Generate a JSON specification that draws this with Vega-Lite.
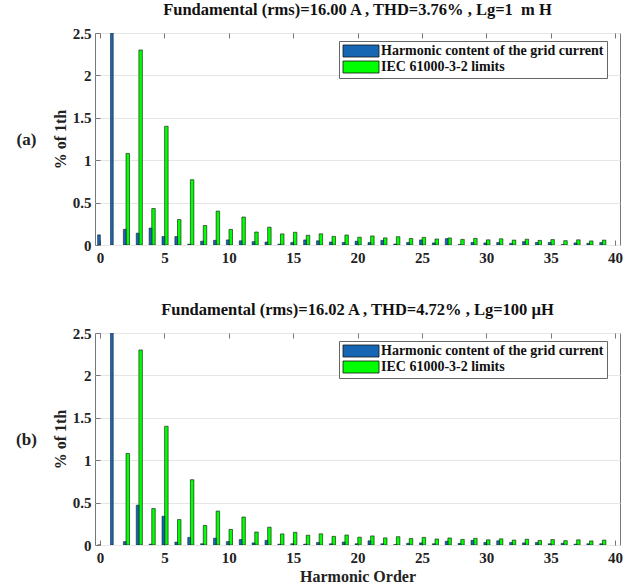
{
  "$schema": "https://vega.github.io/schema/vega-lite/v6.json",
  "padding": {"left": 15, "top": 1, "right": 4, "bottom": 2},
  "background": "white",
  "config": {
    "font": "Times New Roman, Liberation Serif, serif",
    "view": {"stroke": "#777", "strokeWidth": 1},
    "title": {"font": "Times New Roman, Liberation Serif, serif", "fontSize": 16.5, "fontWeight": "bold", "color": "#111", "offset": 8},
    "axis": {
      "labelFont": "Times New Roman, Liberation Serif, serif", "labelFontSize": 15, "labelFontWeight": "bold", "labelColor": "#222",
      "titleFont": "Times New Roman, Liberation Serif, serif", "titleFontSize": 16, "titleFontWeight": "bold", "titleColor": "#222",
      "domain": false, "gridColor": "#e6e6e6", "gridWidth": 1, "tickColor": "#777"
    },
    "legend": {
      "orient": "none", "legendX": 244, "legendY": 8, "fillColor": "white", "strokeColor": "#666", "padding": 3,
      "labelFont": "Times New Roman, Liberation Serif, serif", "labelFontSize": 14, "labelFontWeight": "bold", "labelColor": "#111",
      "rowPadding": 0, "labelOffset": 13, "labelLimit": 400, "title": null
    }
  },
  "datasets": {
    "limits": [
      {"h": 2, "series": "IEC 61000-3-2 limits", "value": 1.08},
      {"h": 3, "series": "IEC 61000-3-2 limits", "value": 2.30},
      {"h": 4, "series": "IEC 61000-3-2 limits", "value": 0.43},
      {"h": 5, "series": "IEC 61000-3-2 limits", "value": 1.40},
      {"h": 6, "series": "IEC 61000-3-2 limits", "value": 0.30},
      {"h": 7, "series": "IEC 61000-3-2 limits", "value": 0.77},
      {"h": 8, "series": "IEC 61000-3-2 limits", "value": 0.23},
      {"h": 9, "series": "IEC 61000-3-2 limits", "value": 0.40},
      {"h": 10, "series": "IEC 61000-3-2 limits", "value": 0.184},
      {"h": 11, "series": "IEC 61000-3-2 limits", "value": 0.33},
      {"h": 12, "series": "IEC 61000-3-2 limits", "value": 0.153},
      {"h": 13, "series": "IEC 61000-3-2 limits", "value": 0.21},
      {"h": 14, "series": "IEC 61000-3-2 limits", "value": 0.131},
      {"h": 15, "series": "IEC 61000-3-2 limits", "value": 0.15},
      {"h": 16, "series": "IEC 61000-3-2 limits", "value": 0.115},
      {"h": 17, "series": "IEC 61000-3-2 limits", "value": 0.132},
      {"h": 18, "series": "IEC 61000-3-2 limits", "value": 0.102},
      {"h": 19, "series": "IEC 61000-3-2 limits", "value": 0.118},
      {"h": 20, "series": "IEC 61000-3-2 limits", "value": 0.092},
      {"h": 21, "series": "IEC 61000-3-2 limits", "value": 0.107},
      {"h": 22, "series": "IEC 61000-3-2 limits", "value": 0.084},
      {"h": 23, "series": "IEC 61000-3-2 limits", "value": 0.098},
      {"h": 24, "series": "IEC 61000-3-2 limits", "value": 0.077},
      {"h": 25, "series": "IEC 61000-3-2 limits", "value": 0.090},
      {"h": 26, "series": "IEC 61000-3-2 limits", "value": 0.071},
      {"h": 27, "series": "IEC 61000-3-2 limits", "value": 0.083},
      {"h": 28, "series": "IEC 61000-3-2 limits", "value": 0.066},
      {"h": 29, "series": "IEC 61000-3-2 limits", "value": 0.078},
      {"h": 30, "series": "IEC 61000-3-2 limits", "value": 0.061},
      {"h": 31, "series": "IEC 61000-3-2 limits", "value": 0.073},
      {"h": 32, "series": "IEC 61000-3-2 limits", "value": 0.058},
      {"h": 33, "series": "IEC 61000-3-2 limits", "value": 0.068},
      {"h": 34, "series": "IEC 61000-3-2 limits", "value": 0.054},
      {"h": 35, "series": "IEC 61000-3-2 limits", "value": 0.064},
      {"h": 36, "series": "IEC 61000-3-2 limits", "value": 0.051},
      {"h": 37, "series": "IEC 61000-3-2 limits", "value": 0.061},
      {"h": 38, "series": "IEC 61000-3-2 limits", "value": 0.048},
      {"h": 39, "series": "IEC 61000-3-2 limits", "value": 0.058}
    ],
    "a": [
      {"h": 0, "series": "Harmonic content of the grid current", "value": 0.12},
      {"h": 1, "series": "Harmonic content of the grid current", "value": 100},
      {"h": 2, "series": "Harmonic content of the grid current", "value": 0.185},
      {"h": 3, "series": "Harmonic content of the grid current", "value": 0.14},
      {"h": 4, "series": "Harmonic content of the grid current", "value": 0.2},
      {"h": 5, "series": "Harmonic content of the grid current", "value": 0.1},
      {"h": 6, "series": "Harmonic content of the grid current", "value": 0.1},
      {"h": 7, "series": "Harmonic content of the grid current", "value": 0.01},
      {"h": 8, "series": "Harmonic content of the grid current", "value": 0.045},
      {"h": 9, "series": "Harmonic content of the grid current", "value": 0.055},
      {"h": 10, "series": "Harmonic content of the grid current", "value": 0.06},
      {"h": 11, "series": "Harmonic content of the grid current", "value": 0.05},
      {"h": 12, "series": "Harmonic content of the grid current", "value": 0.04},
      {"h": 13, "series": "Harmonic content of the grid current", "value": 0.035},
      {"h": 14, "series": "Harmonic content of the grid current", "value": 0.01},
      {"h": 15, "series": "Harmonic content of the grid current", "value": 0.03},
      {"h": 16, "series": "Harmonic content of the grid current", "value": 0.06},
      {"h": 17, "series": "Harmonic content of the grid current", "value": 0.05},
      {"h": 18, "series": "Harmonic content of the grid current", "value": 0.035},
      {"h": 19, "series": "Harmonic content of the grid current", "value": 0.03},
      {"h": 20, "series": "Harmonic content of the grid current", "value": 0.045},
      {"h": 21, "series": "Harmonic content of the grid current", "value": 0.03},
      {"h": 22, "series": "Harmonic content of the grid current", "value": 0.055},
      {"h": 23, "series": "Harmonic content of the grid current", "value": 0.012},
      {"h": 24, "series": "Harmonic content of the grid current", "value": 0.03},
      {"h": 25, "series": "Harmonic content of the grid current", "value": 0.06},
      {"h": 26, "series": "Harmonic content of the grid current", "value": 0.025},
      {"h": 27, "series": "Harmonic content of the grid current", "value": 0.075},
      {"h": 28, "series": "Harmonic content of the grid current", "value": 0.005},
      {"h": 29, "series": "Harmonic content of the grid current", "value": 0.03},
      {"h": 30, "series": "Harmonic content of the grid current", "value": 0.025},
      {"h": 31, "series": "Harmonic content of the grid current", "value": 0.03},
      {"h": 32, "series": "Harmonic content of the grid current", "value": 0.02},
      {"h": 33, "series": "Harmonic content of the grid current", "value": 0.04},
      {"h": 34, "series": "Harmonic content of the grid current", "value": 0.03},
      {"h": 35, "series": "Harmonic content of the grid current", "value": 0.03},
      {"h": 36, "series": "Harmonic content of the grid current", "value": 0.005},
      {"h": 37, "series": "Harmonic content of the grid current", "value": 0.025},
      {"h": 38, "series": "Harmonic content of the grid current", "value": 0.02},
      {"h": 39, "series": "Harmonic content of the grid current", "value": 0.03}
    ],
    "b": [
      {"h": 0, "series": "Harmonic content of the grid current", "value": 0.0},
      {"h": 1, "series": "Harmonic content of the grid current", "value": 100},
      {"h": 2, "series": "Harmonic content of the grid current", "value": 0.04},
      {"h": 3, "series": "Harmonic content of the grid current", "value": 0.47},
      {"h": 4, "series": "Harmonic content of the grid current", "value": 0.01},
      {"h": 5, "series": "Harmonic content of the grid current", "value": 0.34},
      {"h": 6, "series": "Harmonic content of the grid current", "value": 0.035},
      {"h": 7, "series": "Harmonic content of the grid current", "value": 0.09},
      {"h": 8, "series": "Harmonic content of the grid current", "value": 0.015},
      {"h": 9, "series": "Harmonic content of the grid current", "value": 0.08},
      {"h": 10, "series": "Harmonic content of the grid current", "value": 0.04},
      {"h": 11, "series": "Harmonic content of the grid current", "value": 0.065},
      {"h": 12, "series": "Harmonic content of the grid current", "value": 0.025},
      {"h": 13, "series": "Harmonic content of the grid current", "value": 0.055},
      {"h": 14, "series": "Harmonic content of the grid current", "value": 0.01},
      {"h": 15, "series": "Harmonic content of the grid current", "value": 0.015},
      {"h": 16, "series": "Harmonic content of the grid current", "value": 0.01},
      {"h": 17, "series": "Harmonic content of the grid current", "value": 0.03},
      {"h": 18, "series": "Harmonic content of the grid current", "value": 0.015},
      {"h": 19, "series": "Harmonic content of the grid current", "value": 0.035},
      {"h": 20, "series": "Harmonic content of the grid current", "value": 0.015},
      {"h": 21, "series": "Harmonic content of the grid current", "value": 0.05},
      {"h": 22, "series": "Harmonic content of the grid current", "value": 0.015},
      {"h": 23, "series": "Harmonic content of the grid current", "value": 0.005},
      {"h": 24, "series": "Harmonic content of the grid current", "value": 0.02},
      {"h": 25, "series": "Harmonic content of the grid current", "value": 0.025},
      {"h": 26, "series": "Harmonic content of the grid current", "value": 0.015},
      {"h": 27, "series": "Harmonic content of the grid current", "value": 0.045},
      {"h": 28, "series": "Harmonic content of the grid current", "value": 0.02},
      {"h": 29, "series": "Harmonic content of the grid current", "value": 0.055},
      {"h": 30, "series": "Harmonic content of the grid current", "value": 0.03},
      {"h": 31, "series": "Harmonic content of the grid current", "value": 0.05},
      {"h": 32, "series": "Harmonic content of the grid current", "value": 0.03},
      {"h": 33, "series": "Harmonic content of the grid current", "value": 0.025},
      {"h": 34, "series": "Harmonic content of the grid current", "value": 0.03},
      {"h": 35, "series": "Harmonic content of the grid current", "value": 0.015},
      {"h": 36, "series": "Harmonic content of the grid current", "value": 0.02},
      {"h": 37, "series": "Harmonic content of the grid current", "value": 0.01},
      {"h": 38, "series": "Harmonic content of the grid current", "value": 0.015},
      {"h": 39, "series": "Harmonic content of the grid current", "value": 0.015}
    ]
  },
  "spacing": 35,
  "vconcat": [
    {
      "title": "Fundamental (rms)=16.00 A , THD=3.76% , Lg=1\u00a0 m H",
      "width": 525,
      "height": 212,
      "layer": [
        {
          "data": {"name": "limits"},
          "mark": {"type": "bar", "size": 3.5, "xOffset": 2, "stroke": "#111", "strokeWidth": 0.6, "clip": true},
          "encoding": {
            "x": {"field": "h", "type": "quantitative", "scale": {"domain": [0, 40], "nice": false},
                  "axis": {"orient": "top", "labels": false, "title": null, "grid": false, "values": [0,5,10,15,20,25,30,35,40], "tickSize": -5}},
            "y": {"field": "value", "type": "quantitative", "scale": {"domain": [0, 2.5], "nice": false},
                  "axis": {"orient": "left", "labels": false, "ticks": false, "grid": false, "title": "(a)", "titleFontSize": 17, "titleAngle": 0, "titleAlign": "center", "titleBaseline": "middle", "titleX": -69, "titleY": 106}},
            "color": {"field": "series", "type": "nominal",
                      "scale": {"domain": ["Harmonic content of the grid current", "IEC 61000-3-2 limits"], "range": ["#1666b4", "#00ff00"]},
                      "legend": {"symbolType": "M-3,-1H3V1H-3Z", "symbolSize": 144, "symbolOffset": 12, "symbolStrokeColor": "#333", "symbolStrokeWidth": 0.8}}
          }
        },
        {
          "data": {"name": "a"},
          "mark": {"type": "bar", "size": 2.8, "xOffset": -1, "stroke": "#111", "strokeWidth": 0.5, "clip": true},
          "encoding": {
            "x": {"field": "h", "type": "quantitative",
                  "axis": {"orient": "bottom", "title": null, "grid": false, "values": [0,5,10,15,20,25,30,35,40], "tickSize": -5, "labelPadding": 10}},
            "y": {"field": "value", "type": "quantitative",
                  "axis": {"orient": "left", "title": "% of 1th", "grid": true, "values": [0,0.5,1,1.5,2,2.5], "format": "~g", "tickSize": -5, "labelPadding": 9, "titlePadding": 4}},
            "color": {"field": "series", "type": "nominal"}
          }
        }
      ],
      "resolve": {"axis": {"x": "independent", "y": "independent"}}
    },
    {
      "title": "Fundamental (rms)=16.02 A , THD=4.72% , Lg=100 µH",
      "width": 525,
      "height": 212,
      "layer": [
        {
          "data": {"name": "limits"},
          "mark": {"type": "bar", "size": 3.5, "xOffset": 2, "stroke": "#111", "strokeWidth": 0.6, "clip": true},
          "encoding": {
            "x": {"field": "h", "type": "quantitative", "scale": {"domain": [0, 40], "nice": false},
                  "axis": {"orient": "top", "labels": false, "title": null, "grid": false, "values": [0,5,10,15,20,25,30,35,40], "tickSize": -5}},
            "y": {"field": "value", "type": "quantitative", "scale": {"domain": [0, 2.5], "nice": false},
                  "axis": {"orient": "left", "labels": false, "ticks": false, "grid": false, "title": "(b)", "titleFontSize": 17, "titleAngle": 0, "titleAlign": "center", "titleBaseline": "middle", "titleX": -69, "titleY": 106}},
            "color": {"field": "series", "type": "nominal",
                      "scale": {"domain": ["Harmonic content of the grid current", "IEC 61000-3-2 limits"], "range": ["#1666b4", "#00ff00"]},
                      "legend": {"symbolType": "M-3,-1H3V1H-3Z", "symbolSize": 144, "symbolOffset": 12, "symbolStrokeColor": "#333", "symbolStrokeWidth": 0.8}}
          }
        },
        {
          "data": {"name": "b"},
          "mark": {"type": "bar", "size": 2.8, "xOffset": -1, "stroke": "#111", "strokeWidth": 0.5, "clip": true},
          "encoding": {
            "x": {"field": "h", "type": "quantitative",
                  "axis": {"orient": "bottom", "title": "Harmonic Order", "grid": false, "values": [0,5,10,15,20,25,30,35,40], "tickSize": -5, "labelPadding": 10, "titlePadding": 3}},
            "y": {"field": "value", "type": "quantitative",
                  "axis": {"orient": "left", "title": "% of 1th", "grid": true, "values": [0,0.5,1,1.5,2,2.5], "format": "~g", "tickSize": -5, "labelPadding": 9, "titlePadding": 4}},
            "color": {"field": "series", "type": "nominal"}
          }
        }
      ],
      "resolve": {"axis": {"x": "independent", "y": "independent"}}
    }
  ],
  "resolve": {"legend": {"color": "independent"}}
}
